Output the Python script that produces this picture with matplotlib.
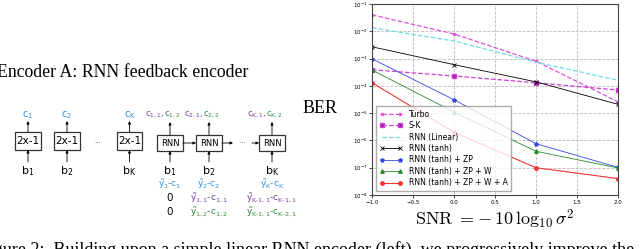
import matplotlib
matplotlib.use('Agg')
import matplotlib.pyplot as plt
from matplotlib.patches import Rectangle

plt.rcParams['mathtext.fontset'] = 'cm'

# data
snr = [-1.0, 0.0, 1.0, 2.0]
ber_turbo = [4.0e-2, 8.0e-3, 8.0e-4, 2.6e-5]
ber_sk = [3.9e-4, 2.3e-4, 1.3e-4, 7.0e-5]
ber_linear = [1.35e-2, 4.4e-3, 7.4e-4, 1.6e-4]
ber_tanh = [2.7e-3, 6.0e-4, 1.4e-4, 2.1e-5]
ber_zp = [9.8e-4, 3.1e-5, 7.6e-7, 1.03e-7]
ber_zpw = [3.8e-4, 1.1e-5, 4.0e-7, 9.8e-8]
ber_zpwa = [1.3e-4, 2.0e-6, 1.0e-7, 4.0e-8]
labels = ['Turbo', 'S-K', 'RNN (Linear)', 'RNN (tanh)', 'RNN (tanh) + ZP',
          'RNN (tanh) + ZP + W', 'RNN (tanh) + ZP + W + A']
xticks = [-1.0, -0.5, 0.0, 0.5, 1.0, 1.5, 2.0]
yticks = [1e-8, 1e-7, 1e-6, 1e-5, 1e-4, 1e-3, 1e-2, 1e-1]

serif = 'Liberation Serif'
blue = '#2f8fdf'
purple = '#7b3f9e'
green = '#2e8b3e'

fig = plt.figure(figsize=(6.4, 2.49), dpi=100)

# --- diagram on the left, drawn in pixel coordinates ---
d = fig.add_axes([0, 0, 1, 1])
d.set_xlim(0, 640)
d.set_ylim(249, 0)
d.axis('off')

d.text(-3, 72, 'Encoder A: RNN feedback encoder', family=serif, fontsize=12.8, va='center')
d.text(303, 108, 'BER', family=serif, fontsize=13, va='center')
d.text(634, 241.5, 'Figure 2:  Building upon a simple linear RNN encoder (left), we progressively improve the',
       family=serif, fontsize=12.95, va='top', ha='right')


def arrow(x0, y0, x1, y1):
    d.annotate('', xy=(x1, y1), xytext=(x0, y0),
               arrowprops=dict(arrowstyle='-|>', color='k', lw=0.6, mutation_scale=4,
                               shrinkA=0, shrinkB=0))


def label(x, y, s, color='k', fs=7, ha='center'):
    d.text(x, y, s, color=color, fontsize=fs, ha=ha, va='center', math_fontfamily='dejavusans')


def box(x0, x1, y0, y1, s, fs):
    d.add_patch(Rectangle((x0, y0), x1 - x0, y1 - y0, fill=False, ec='#333333', lw=0.9))
    d.text((x0 + x1) / 2, (y0 + y1) / 2, s, fontsize=fs, ha='center', va='center')


# linear encoder
lin = [(15, 41, '1'), (54, 80, '2'), (117, 142, 'K')]
for x0, x1, k in lin:
    xc = (x0 + x1) / 2
    box(x0, x1, 132, 150, '2x-1', 7.5)
    arrow(xc, 162, xc, 150)
    arrow(xc, 132, xc, 121)
    label(xc, 115, r'$\mathrm{c}_{\mathrm{%s}}$' % k, blue)
    label(xc, 171, r'$\mathrm{b}_{\mathrm{%s}}$' % k, fs=8)
d.text(98, 143, '···', fontsize=5, ha='center', va='center', color='#555555')

# RNN feedback encoder
rnn = [(157, 183), (196, 222), (259, 285)]
for x0, x1 in rnn:
    xc = (x0 + x1) / 2
    box(x0, x1, 135, 151, 'RNN', 6)
    arrow(xc, 162, xc, 151)
    arrow(xc, 135, xc, 122)
arrow(183, 143, 196, 143)
arrow(222, 143, 233, 143)
d.text(243, 143, '···', fontsize=5, ha='center', va='center', color='#555555')
arrow(252, 143, 259, 143)

tops = [('1,1', '1,2'), ('2,1', '2,2'), ('K,1', 'K,2')]
for (x0, x1), (a, b) in zip(rnn, tops):
    xm = (x0 + x1) / 2 - 6
    label(xm, 115, r'$\mathrm{c}_{\mathrm{%s}}$,' % a, purple, 6, ha='right')
    label(xm, 115, r'$\mathrm{c}_{\mathrm{%s}}$' % b, green, 6, ha='left')

xr = [(x0 + x1) / 2 for x0, x1 in rnn]
label(xr[0], 171, r'$\mathrm{b}_{\mathrm{1}}$', fs=8)
label(xr[1], 171, r'$\mathrm{b}_{\mathrm{2}}$', fs=8)
label(xr[2], 171, r'$\mathrm{b}_{\mathrm{K}}$', fs=8)
label(xr[0], 184, r'$\tilde{\mathrm{y}}_{\mathrm{1}}$-$\mathrm{c}_{\mathrm{1}}$', blue, 6.5)
label(xr[1], 184, r'$\tilde{\mathrm{y}}_{\mathrm{2}}$-$\mathrm{c}_{\mathrm{2}}$', blue, 6.5)
label(xr[2], 184, r'$\tilde{\mathrm{y}}_{\mathrm{K}}$-$\mathrm{c}_{\mathrm{K}}$', blue, 6.5)
label(xr[0], 198, '0', fs=7.5)
label(xr[0], 212, '0', fs=7.5)
label(xr[1], 198, r'$\tilde{\mathrm{y}}_{\mathrm{1,1}}$-$\mathrm{c}_{\mathrm{1,1}}$', purple, 6.5)
label(xr[1], 212, r'$\tilde{\mathrm{y}}_{\mathrm{1,2}}$-$\mathrm{c}_{\mathrm{1,2}}$', green, 6.5)
label(xr[2] - 1, 198, r'$\tilde{\mathrm{y}}_{\mathrm{K\text{-}1,1}}$-$\mathrm{c}_{\mathrm{K\text{-}1,1}}$', purple, 6.5)
label(xr[2] - 1, 212, r'$\tilde{\mathrm{y}}_{\mathrm{K\text{-}1,1}}$-$\mathrm{c}_{\mathrm{K\text{-}2,1}}$', green, 6.5)

# --- BER plot ---
ax = fig.add_axes([372 / 640, 54 / 249, 246 / 640, 191 / 249])
ax.semilogy(snr, ber_turbo, color='#e050e0', ls='--', lw=0.9, marker='.', ms=3, label=labels[0])
ax.semilogy(snr, ber_sk, color='#d040d0', ls='--', lw=0.9, marker='s', ms=3.5,
            mfc='#a020a0', mec='#d040d0', label=labels[1])
ax.semilogy(snr, ber_linear, color='#70dde6', ls='--', lw=0.9, label=labels[2])
ax.semilogy(snr, ber_tanh, color='k', lw=0.6, marker='x', ms=2.5, mew=0.6, label=labels[3])
ax.semilogy(snr, ber_zp, color='#3545e0', lw=0.6, marker='*', ms=3, label=labels[4])
ax.semilogy(snr, ber_zpw, color='#2a8a2a', lw=0.6, marker='^', ms=2.5, label=labels[5])
ax.semilogy(snr, ber_zpwa, color='#f03535', lw=0.8, marker='o', ms=2.5, label=labels[6])

ax.set_xlim(-1, 2)
ax.set_ylim(1e-8, 1e-1)
ax.set_xticks(xticks)
ax.set_yticks(yticks)
ax.minorticks_off()
ax.tick_params(labelsize=4, length=2, width=0.5, pad=1.5)
ax.grid(True, ls='--', color='#bbbbbb', lw=0.6)
for s in ax.spines.values():
    s.set_color('#444444')
    s.set_linewidth(0.8)
ax.set_xlabel(r'$\mathrm{SNR}\;=\!-10\,\log_{10}\sigma^2$', fontsize=13, labelpad=2)
ax.legend(loc='lower left', fontsize=5.5, handlelength=3, labelspacing=0.32, numpoints=2,
          fancybox=False, edgecolor='#999999', borderpad=0.5)

fig.savefig('out.png', dpi=100)
